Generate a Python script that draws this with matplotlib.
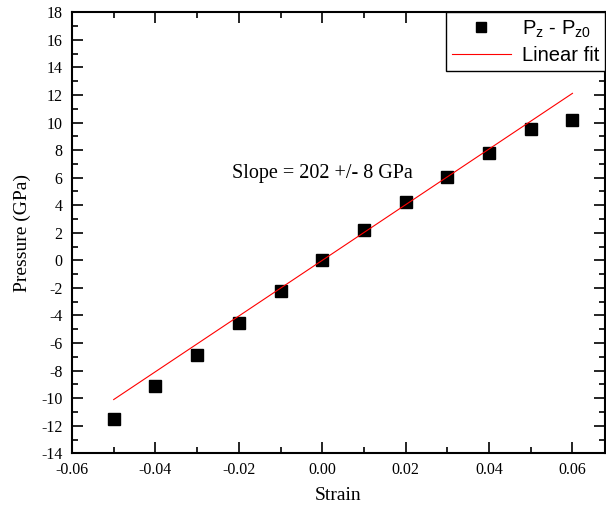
from matplotlib import pyplot as plt
from matplotlib.ticker import MultipleLocator
import numpy as np

# data
strain = [-0.05, -0.04, -0.03, -0.02, -0.01, 0.0, 0.01, 0.02, 0.03, 0.04, 0.05, 0.06]
pressure = [-11.5, -9.1, -6.85, -4.55, -2.25, 0.0, 2.2, 4.23, 6.08, 7.78, 9.52, 10.2]

# linear fit as drawn (GPa per unit strain)
fit_slope = 202.0
fit_intercept = 0.0
fit_range = [-0.05, 0.06]

plt.rcParams['mathtext.fontset'] = 'custom'
plt.rcParams['mathtext.rm'] = 'Liberation Sans'
plt.rcParams['mathtext.it'] = 'Liberation Sans'
plt.rcParams['axes.unicode_minus'] = False

serif = 'Liberation Serif'

fig = plt.figure(figsize=(6.06, 5.14), dpi=100)
ax = fig.add_axes([72/606, (514-453.3)/514, (605-72)/606, (453.3-12.3)/514])

ax.plot(strain, pressure, 's', color='black', markersize=8, label=r'P$_\mathregular{z}$ - P$_\mathregular{z0}$')
fx = np.array(fit_range)
ax.plot(fx, fit_slope*fx + fit_intercept, color='red', linewidth=0.8, label='Linear fit')

ax.set_xlim(-0.06, 0.0678)
ax.set_ylim(-14, 18)
ax.xaxis.set_minor_locator(MultipleLocator(0.01))
ax.yaxis.set_major_locator(MultipleLocator(2))
ax.yaxis.set_minor_locator(MultipleLocator(1))
xt = np.arange(-0.06, 0.061, 0.02)
ax.set_xticks(xt)
ax.set_xticklabels(['%.2f' % v for v in xt])

ax.tick_params(which='both', direction='in', top=True, right=True, width=1.2)
ax.tick_params(which='major', length=8, labelsize=11.5)
ax.tick_params(axis='x', which='major', pad=6)
ax.tick_params(axis='y', which='major', pad=7)
ax.tick_params(which='minor', length=4.5)
for lab in ax.get_xticklabels() + ax.get_yticklabels():
    lab.set_fontfamily(serif)
for sp in ax.spines.values():
    sp.set_linewidth(1.5)

ax.set_xlabel('Strain', fontsize=14, fontfamily=serif, labelpad=7)
ax.set_ylabel('Pressure (GPa)', fontsize=14, fontfamily=serif, labelpad=7)

ax.text(-0.0216, 5.98, 'Slope = 202 +/- 8 GPa', fontsize=14.5, fontfamily=serif)

leg = ax.legend(loc='upper right', borderaxespad=0, fancybox=False, framealpha=1,
                prop={'family': 'Liberation Sans', 'size': 14.5}, handlelength=2.9,
                borderpad=0.3, labelspacing=0.3, handletextpad=0.55, markerscale=0.85)
leg.get_frame().set_edgecolor('black')
leg.get_frame().set_linewidth(1.0)

fig.savefig('out.png', dpi=100)
